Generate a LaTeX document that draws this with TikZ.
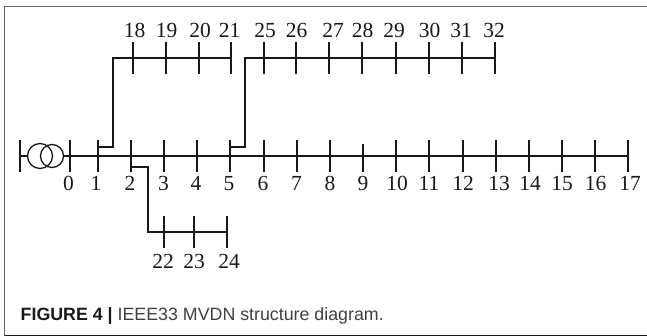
\documentclass[tikz,border=0pt]{standalone}
\usepackage{fontspec}
\setmainfont{Liberation Serif}
\newfontfamily\capfont{Liberation Sans}
\tikzset{
  wire/.style={draw=black!90,line width=1.3pt},
  tick/.style={draw=black!90,line width=1.3pt},
  busnum/.style={font=\fontsize{21.5}{21.5}\selectfont,inner sep=0pt,text=black!90,anchor=base},
  frameline/.style={draw=black!60,line width=1pt},
}
\begin{document}
\begin{tikzpicture}[x=1pt,y=-1pt]
\useasboundingbox (0,0) rectangle (647,336);
\fill[white] (0,0) rectangle (647,336);
% frame
\draw[frameline] (4.5,335.5) -- (4.5,6.5) -- (647,6.5);
\draw[draw=black!90,line width=1pt] (4.5,335.5) -- (647,335.5);
% main feeder bus coordinates and numbers
\foreach \n/\x/\lx in {0/70/68.5,1/98/96,2/131/130,3/164/163.5,4/197/196,5/230/229,6/264/263,7/297/296.5,8/330/330,9/363/363,10/396/397,11/429/429,12/463/463,13/496/499,14/529/530,15/562/562,16/595/595.5,17/628/630}{
  \coordinate (b\n) at (\x,156);
  \node[busnum] (lab\n) at (\lx,191) {\n};
}
\foreach \n in {0,1,2,3,4,5,6,7,8,10,11,12,13,14,15,16,17}{
  \draw[tick] ([yshift=16pt]b\n) -- ([yshift=-16pt]b\n);
}
\draw[tick] ([yshift=12pt]b9) -- ([yshift=-16pt]b9);
% upper branch 18-21
\foreach \n/\x/\lx in {18/133/134.5,19/166/166.5,20/199/200,21/231/229.5}{
  \coordinate (b\n) at (\x,58);
  \node[busnum] (lab\n) at (\lx,38) {\n};
  \draw[tick] ([yshift=16pt]b\n) -- ([yshift=-16pt]b\n);
}
% upper branch 25-32
\foreach \n/\x/\lx in {25/264/265,26/296/296.5,27/329/333,28/362/362.5,29/396/394,30/429/429.5,31/462/461,32/495/494}{
  \coordinate (b\n) at (\x,58);
  \node[busnum] (lab\n) at (\lx,38) {\n};
  \draw[tick] ([yshift=16pt]b\n) -- ([yshift=-16pt]b\n);
}
% lower branch 22-24
\foreach \n/\x/\lx in {22/164/163,23/194/194,24/227/229}{
  \coordinate (b\n) at (\x,232);
  \node[busnum] (lab\n) at (\lx,269) {\n};
  \draw[tick] ([yshift=16pt]b\n) -- ([yshift=-16pt]b\n);
}
% transformer
\node[circle,draw=black!90,line width=1.3pt,minimum size=25pt,inner sep=0pt] (t1) at (40,156) {};
\node[circle,draw=black!90,line width=1.3pt,minimum size=23pt,inner sep=0pt] (t2) at (52,156) {};
\coordinate (src) at (20,156);
\draw[tick] ([yshift=16pt]src) -- ([yshift=-16pt]src);
% wires
\draw[wire] (src) -- (t1.west);
\draw[wire] (t2.east) -- (b0);
\draw[wire] (b0) -- (b17);
\draw[wire] (b18) -- (b21);
\draw[wire] (b25) -- (b32);
\draw[wire] (b22) -- (b24);
\draw[wire] ([yshift=9pt]b1) -| (113,58) -- (b18);
\draw[wire] ([yshift=9pt]b5) -| (245,58) -- (b25);
\draw[wire] ([yshift=-11pt]b2) -| (148,232) -- (b22);
% caption
\node[anchor=base west,inner sep=0pt,text=black!90,font=\capfont\fontsize{17.8}{18}\selectfont] (cap) at (20.5,320) {\textbf{FIGURE 4 |} {\color{black!75}IEEE33 MVDN structure diagram.}};
\end{tikzpicture}
\end{document}
